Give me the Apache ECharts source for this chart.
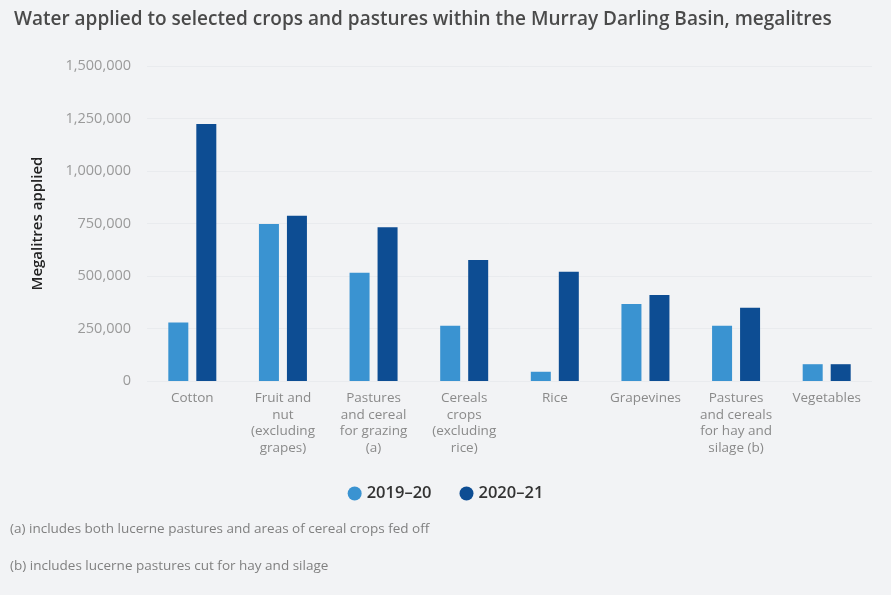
<!DOCTYPE html>
<html>
<head>
<meta charset="utf-8">
<script src="https://cdn.jsdelivr.net/npm/echarts@6/dist/echarts.min.js"></script>
<style>
  html, body { margin: 0; padding: 0; background: #f2f3f5; }
  #chart { width: 891px; height: 595px; }
</style>
</head>
<body>
<div id="chart"></div>
<script>
// Crop / pasture categories (x axis)
const categories = [
  'Cotton',
  'Fruit and\nnut\n(excluding\ngrapes)',
  'Pastures\nand cereal\nfor grazing\n(a)',
  'Cereals\ncrops\n(excluding\nrice)',
  'Rice',
  'Grapevines',
  'Pastures\nand cereals\nfor hay and\nsilage (b)',
  'Vegetables'
];

// Water applied, megalitres
const water2019_20 = [279000, 748000, 516000, 263000, 44000, 367000, 263000, 80000];
const water2020_21 = [1224000, 787000, 732000, 576000, 520000, 410000, 349000, 80000];

const seriesNames = ['2019–20', '2020–21'];
const yTicks = { min: 0, max: 1500000, interval: 250000 };

const footnotes = [
  '(a) includes both lucerne pastures and areas of cereal crops fed off',
  '(b) includes lucerne pastures cut for hay and silage'
];

const chart = echarts.init(document.getElementById('chart'));
const FONT = '"Open Sans", "Noto Sans", sans-serif';

chart.setOption({
  backgroundColor: '#f2f3f5',
  textStyle: { fontFamily: FONT },
  title: {
    text: 'Water applied to selected crops and pastures within the Murray Darling Basin, megalitres',
    left: 9,
    top: 5,
    textStyle: { fontFamily: FONT, fontSize: 19, fontWeight: 600, color: '#4a4a4a' }
  },
  legend: {
    top: 480,
    left: 'center',
    icon: 'circle',
    itemWidth: 14,
    itemHeight: 14,
    itemGap: 28,
    textStyle: { fontFamily: FONT, fontSize: 16.5, fontWeight: 600, color: '#333' },
    data: seriesNames
  },
  graphic: footnotes.map((t, i) => ({
    type: 'text',
    left: 10,
    top: 522 + i * 37,
    style: { text: t, fontFamily: FONT, fontSize: 13.5, fill: '#808080' }
  })),
  grid: { left: 147, right: 19, top: 66, bottom: 214, containLabel: false },
  xAxis: {
    type: 'category',
    data: categories,
    axisLine: { show: false },
    axisTick: { show: false },
    axisLabel: {
      interval: 0,
      margin: 9,
      color: '#8a8a8a',
      fontSize: 13.5,
      lineHeight: 16.5,
      fontFamily: FONT
    }
  },
  yAxis: {
    type: 'value',
    min: yTicks.min,
    max: yTicks.max,
    interval: yTicks.interval,
    name: 'Megalitres applied',
    nameLocation: 'middle',
    nameGap: 102,
    nameTextStyle: { fontFamily: FONT, fontSize: 15, fontWeight: 600, color: '#222' },
    axisLine: { show: false },
    axisTick: { show: false },
    splitLine: { lineStyle: { color: '#e9ebee' } },
    axisLabel: {
      color: '#9a9a9a',
      fontSize: 14.5,
      margin: 16,
      fontFamily: FONT,
      formatter: v => v.toLocaleString('en-US')
    }
  },
  series: [
    {
      name: seriesNames[0],
      type: 'bar',
      data: water2019_20,
      barWidth: 20,
      barGap: '40%',
      itemStyle: { color: '#3a93d1' }
    },
    {
      name: seriesNames[1],
      type: 'bar',
      data: water2020_21,
      barWidth: 20,
      barGap: '40%',
      itemStyle: { color: '#0d4d93' }
    }
  ]
});
</script>
</body>
</html>
